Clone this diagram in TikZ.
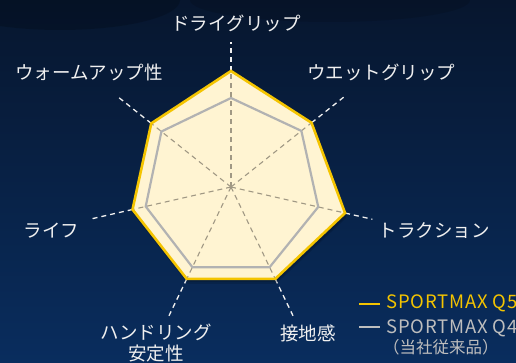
\documentclass[tikz,border=0pt]{standalone}
\usepackage{fontspec}
\setmainfont{Noto Sans CJK JP}
\newfontfamily\legfont[LetterSpace=4.5]{Noto Sans CJK JP}
\definecolor{bgtop}{RGB}{7,22,46}
\definecolor{bgbot}{RGB}{9,45,94}
\definecolor{cream}{RGB}{255,244,210}
\definecolor{qyellow}{RGB}{244,196,0}
\definecolor{qgray}{RGB}{178,178,178}
\definecolor{axisgray}{RGB}{160,152,132}
\definecolor{labelwhite}{RGB}{240,240,240}
\definecolor{leggray}{RGB}{190,190,190}
\begin{document}
\begin{tikzpicture}[x=1pt,y=1pt,
  lbl/.style={text=labelwhite, font=\fontsize{18.5}{21}\selectfont, inner sep=0pt, align=center},
  legtxt/.style={font=\legfont\fontsize{18.5}{22}\selectfont, inner sep=0pt, anchor=base west},
  outeraxis/.style={draw=labelwhite, line width=1.3pt, dash pattern=on 5pt off 4pt},
  inneraxis/.style={draw=axisgray, line width=1.1pt, dash pattern=on 5pt off 4pt},
  q5line/.style={draw=qyellow, line width=2.6pt, line join=miter},
  q4line/.style={draw=qgray, line width=2.2pt, line join=miter}]
\useasboundingbox (0,0) rectangle (516,362);
\clip (0,0) rectangle (516,362);
\shade[top color=bgtop, bottom color=bgbot] (0,0) rectangle (516,362);
\fill[black, opacity=0.18] (60,362) ellipse (120 and 30);
\fill[black, opacity=0.12] (330,362) ellipse (140 and 22);

\coordinate (c) at (231,175);
\foreach \i/\a/\ry/\rg in {1/90/116/89, 2/38.57/103/90, 3/-12.86/117/89.5, 4/-64.29/102/89, 5/-115.71/102/89, 6/-167.14/101/87.5, 7/141.43/102/89} {
  \coordinate (y\i) at ([shift={(\a:\ry)}]c);
  \coordinate (g\i) at ([shift={(\a:\rg)}]c);
  \coordinate (o\i) at ([shift={(\a:145)}]c);
}
% outer white axes
\foreach \i in {1,...,7} { \draw[outeraxis] (y\i) -- (o\i); }
% shadow
\fill[black, opacity=0.12] ([shift={(1.5,-3)}]y1) -- ([shift={(1.5,-3)}]y2) -- ([shift={(1.5,-3)}]y3) -- ([shift={(1.5,-3)}]y4) -- ([shift={(1.5,-3)}]y5) -- ([shift={(1.5,-3)}]y6) -- ([shift={(1.5,-3)}]y7) -- cycle;
\fill[black, opacity=0.12] ([shift={(1,-5)}]y1) -- ([shift={(1,-5)}]y2) -- ([shift={(1,-5)}]y3) -- ([shift={(1,-5)}]y4) -- ([shift={(1,-5)}]y5) -- ([shift={(1,-5)}]y6) -- ([shift={(1,-5)}]y7) -- cycle;
% fill
\fill[cream] (y1) -- (y2) -- (y3) -- (y4) -- (y5) -- (y6) -- (y7) -- cycle;
% inner axes
\foreach \i in {1,...,7} { \draw[inneraxis] (c) -- (y\i); }
% Q4
\draw[q4line] (g1) -- (g2) -- (g3) -- (g4) -- (g5) -- (g6) -- (g7) -- cycle;
% Q5
\draw[q5line] (y1) -- (y2) -- (y3) -- (y4) -- (y5) -- (y6) -- (y7) -- cycle;

% labels
\node[lbl] (l1) at (236,339) {ドライグリップ};
\node[lbl] (l2) at (381,290) {ウエットグリップ};
\node[lbl] (l3) at (434,131) {トラクション};
\node[lbl] (l4) at (308,29) {接地感};
\node[lbl] (l5) at (156,19) {ハンドリング\\安定性};
\node[lbl] (l6) at (51.5,131) {ライフ};
\node[lbl] (l7) at (89,290) {ウォームアップ性};

% legend
\coordinate (k1a) at (359,58);
\coordinate (k1b) at (380,58);
\coordinate (k2a) at (359,35);
\coordinate (k2b) at (380,35);
\draw[qyellow, line width=1.6pt] (k1a) -- (k1b);
\draw[leggray, line width=1.6pt] (k2a) -- (k2b);
\node[legtxt, text=qyellow] (t1) at (386,53.5) {SPORTMAX Q5};
\node[legtxt, text=leggray] (t2) at (386,29) {SPORTMAX Q4};
\node[font=\fontsize{16.5}{18}\selectfont, text=leggray, inner sep=0pt, anchor=west] (t3) at (383,15) {（当社従来品）};
\end{tikzpicture}
\end{document}
